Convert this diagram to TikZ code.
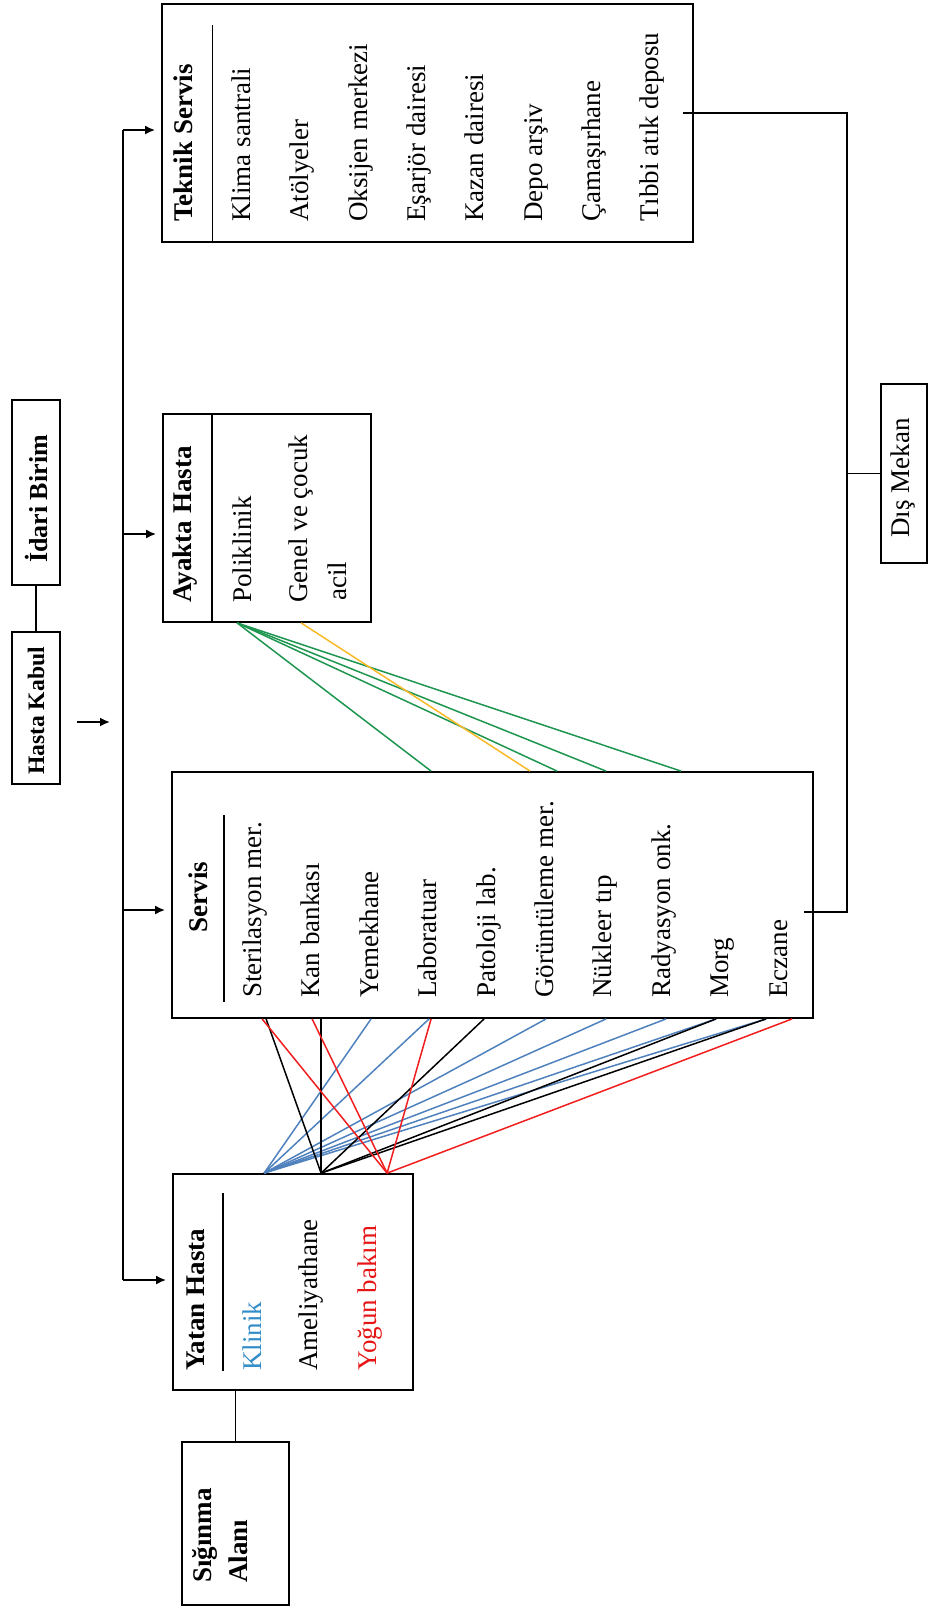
\documentclass[tikz,border=0pt]{standalone}
\usepackage{fontspec}
\setmainfont{Liberation Serif}
\usetikzlibrary{calc,arrows.meta}

\definecolor{linkblue}{RGB}{79,129,189}
\definecolor{linkgreen}{RGB}{30,150,80}
\definecolor{linkorange}{RGB}{250,185,40}
\definecolor{linkred}{RGB}{240,30,30}
\definecolor{klinikblue}{RGB}{50,140,200}
\definecolor{yogunred}{RGB}{230,20,20}

\begin{document}
\begin{tikzpicture}[x=0.5pt,y=-0.5pt,
  frame/.style={draw, line width=0.9pt, inner sep=0pt},
  txt/.style={rotate=90, inner sep=0pt, font=\fontsize{13.5}{16}\selectfont},
  item/.style={txt, anchor=mid west},
  head/.style={item, font=\fontsize{13.5}{16}\selectfont\bfseries},
  sep/.style={line width=0.9pt},
  conn/.style={line width=0.9pt},
  arr/.style={conn, -{Latex[length=5pt,width=4.5pt]}, shorten >=3pt},
  lk/.style={line width=0.75pt}
]
\useasboundingbox (0,0) rectangle (930,1607);

% ---- boxes ----
\node[frame, minimum width=265.5pt, minimum height=119pt] (teknik) at (427.5,123) {};
\node[frame, minimum width=104pt, minimum height=104pt] (ayakta) at (267,518) {};
\node[frame, minimum width=320.5pt, minimum height=123pt] (servis) at (492.5,895) {};
\node[frame, minimum width=120pt, minimum height=108pt] (yatan) at (293,1282) {};
\node[frame, minimum width=53.5pt, minimum height=81.5pt] (siginma) at (235.5,1523.5) {};
\node[frame, minimum width=24pt, minimum height=92.5pt] (idari) at (36,492.5) {};
\node[frame, minimum width=24pt, minimum height=76pt] (kabul) at (36,708) {};
\node[frame, minimum width=23pt, minimum height=89.5pt] (dismekan) at (904,473.5) {};

% ---- box labels ----
\node[txt, font=\fontsize{13}{16}\selectfont\bfseries] (idariT) at (36,499) {İdari Birim};
\node[txt, font=\fontsize{11.8}{14}\selectfont\bfseries] (kabulT) at (36,711) {Hasta Kabul};
\node[txt] (dismekanT) at (903,478) {Dış Mekan};
\node[head] (sigT1) at (207,1583) {Sığınma};
\node[head] (sigT2) at (243,1583) {Alanı};

% Teknik Servis
\node[head] (teknikT) at (187.5,222) {Teknik Servis};
\draw[sep] (212.5,25) -- (212.5,242);
\foreach \t [count=\i] in {Klima santrali, Atölyeler, Oksijen merkezi, Eşarjör dairesi,
    Kazan dairesi, Depo arşiv, Çamaşırhane, Tıbbi atık deposu}
  \node[item] (tk\i) at ({246+58.3*(\i-1)},222) {\t};

% Ayakta Hasta
\node[head] (ayaktaT) at (187,603) {Ayakta Hasta};
\draw[sep] (212,414) -- (212,622);
\node[item] (ay1) at (247,603) {Poliklinik};
\node[item] (ay2) at (303,603) {Genel ve çocuk};
\node[item] (ay3) at (342,601) {acil};

% Servis
\node[txt, font=\fontsize{13.5}{16}\selectfont\bfseries] (servisT) at (198,897) {Servis};
\draw[sep] (224,815) -- (224,1002);
\foreach \t [count=\i] in {Sterilasyon mer., Kan bankası, Yemekhane, Laboratuar,
    Patoloji lab., Görüntüleme mer., Nükleer tıp, Radyasyon onk., Morg, Eczane}
  \node[item] (sv\i) at ({257+58.4*(\i-1)},998) {\t};

% Yatan Hasta
\node[head] (yatanT) at (200,1371) {Yatan Hasta};
\draw[sep] (223,1193) -- (223,1371);
\node[item, text=klinikblue] (ya1) at (257,1371) {Klinik};
\node[item] (ya2) at (313,1371) {Ameliyathane};
\node[item, text=yogunred] (ya3) at (372,1371) {Yoğun bakım};

% ---- admission trunk and branches ----
\coordinate (kIn) at (77,722);
\coordinate (kOut) at (116,722);
\coordinate (trT) at (123,130);
\coordinate (trA) at (123,534);
\coordinate (trS) at (123,910);
\coordinate (trY) at (123,1280);
\draw[conn] (trT) -- (trY);
\draw[arr] (kIn) -- (kOut);
\draw[arr] (trT) -- (teknik.west |- trT);
\draw[arr] (trA) -- (ayakta.west |- trA);
\draw[arr] (trS) -- (servis.west |- trS);
\draw[arr] (trY) -- (yatan.west |- trY);

\draw[conn] (idari.south) -- (kabul.north);
\draw[conn] (siginma.north |- yatan.south) -- (siginma.north);

% ---- outdoor bus ----
\coordinate (tkOut) at ($(teknik.east)+(-11,-10)$);
\coordinate (svOut) at ($(servis.east)+(-10,17)$);
\coordinate (busTop) at (847,113);
\coordinate (busBot) at (847,912);
\draw[conn] (tkOut) -- (busTop) -- (busBot) -- (svOut);
\draw[conn] (busTop |- dismekan.west) -- (dismekan.west);

% ---- outpatient links ----
\coordinate (polOut) at ($(ayakta.south west)+(75,0)$);
\coordinate (acilOut) at ($(ayakta.south west)+(139,0)$);
\foreach \s in {260,386,435,510}
  \draw[lk, linkgreen] (polOut) -- ($(servis.north west)+(\s,0)$);
\draw[lk, linkorange] (acilOut) -- ($(servis.north west)+(359,0)$);

% ---- inpatient links ----
\coordinate (hubK) at ($(yatan.north west)+(92,0)$);
\coordinate (hubA) at ($(yatan.north west)+(149,0)$);
\coordinate (hubY) at ($(yatan.north west)+(215,0)$);
\foreach \s in {200,258,375,435,495,545,595}
  \draw[lk, linkblue] ($(servis.south west)+(\s,0)$) -- (hubK);
\foreach \s in {95,150,313,545,595}
  \draw[lk, black] ($(servis.south west)+(\s,0)$) -- (hubA);
\foreach \s in {91,141,260,621}
  \draw[lk, linkred] ($(servis.south west)+(\s,0)$) -- (hubY);
\end{tikzpicture}
\end{document}
